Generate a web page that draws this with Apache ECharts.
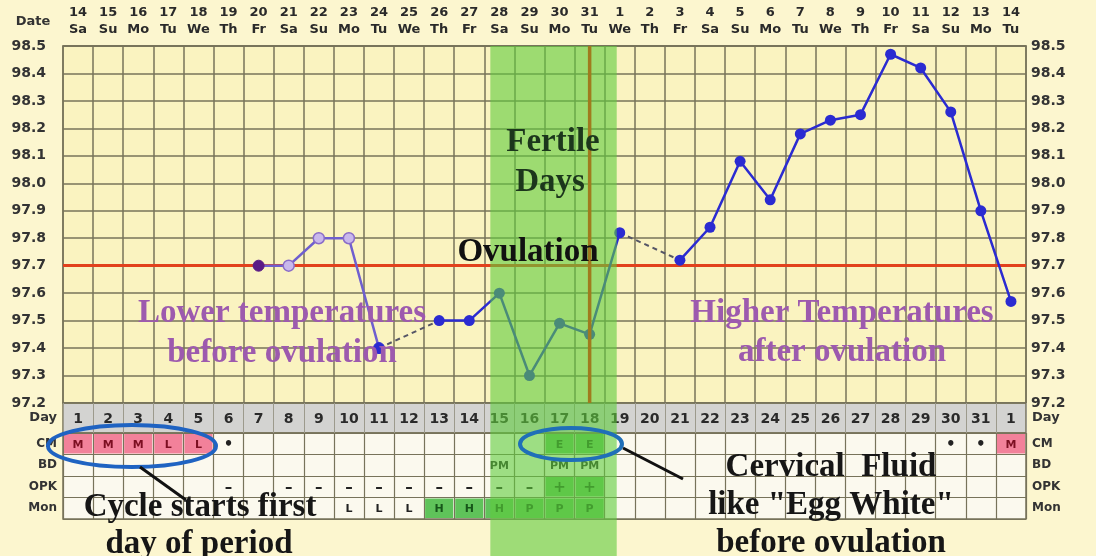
<!DOCTYPE html>
<html>
<head>
<meta charset="utf-8">
<script src="https://cdn.jsdelivr.net/npm/echarts@6/dist/echarts.min.js"></script>
<style>
html,body{margin:0;padding:0;background:#fcf6cf;}
#chart{width:1096px;height:556px;}
</style>
</head>
<body>
<div id="chart"></div>
<script>
// ---------- DATA ----------
const dates = ['14','15','16','17','18','19','20','21','22','23','24','25','26','27','28','29','30','31','1','2','3','4','5','6','7','8','9','10','11','12','13','14'];
const weekdays = ['Sa','Su','Mo','Tu','We','Th','Fr','Sa','Su','Mo','Tu','We','Th','Fr','Sa','Su','Mo','Tu','We','Th','Fr','Sa','Su','Mo','Tu','We','Th','Fr','Sa','Su','Mo','Tu'];
const cycleDays = ['1','2','3','4','5','6','7','8','9','10','11','12','13','14','15','16','17','18','19','20','21','22','23','24','25','26','27','28','29','30','31','1'];
const temps = [null,null,null,null,null,null,97.7,97.7,97.8,97.8,97.4,null,97.5,97.5,97.6,97.3,97.49,97.45,97.82,null,97.72,97.84,98.08,97.94,98.18,98.23,98.25,98.47,98.42,98.26,97.9,97.57];
const tempTicks = {min: 97.2, max: 98.5, step: 0.1};
const coverline = 97.7;
const ovulationIndex = 17;          // cycle day 18
const preOvStart = 6, preOvEnd = 10; // first temps (purple segment)
const dpoLabels = ['1','2','3','4','5','6','7','8','9','10','11','12','13'];
const dpoLevel = 97.745;
const dpoTitle = 'DPO';
const fertileBand = [14.2, 18.4];   // in column units
const rowNames = ['CM','BD','OPK','Mon'];
const cm  = ['M','M','M','L','L','•','','','','','','','','','','','E','E','','','','','','','','','','','','•','•','M'];
const bd  = ['','','','','','','','','','','','','','','PM','','PM','PM','','','','','','','','','','','','','',''];
const opk = ['','','','','','–','','–','–','–','–','–','–','–','–','–','+','+','','','','','','','','','','','','','',''];
const mon = ['','','','','','','','','','L','L','L','H','H','H','P','P','P','','','','','','','','','','','','','',''];

// ---------- STYLE ----------
const gridCol = '#77735a';
const plotBg = '#faf3c0';
const blue = '#2b2bd1';
const purple = '#6f5fcf';
const pink = '#f2819a';
const cellGreen = '#5fc35a';
const fontMono = 'DejaVu Sans';
const serif = 'Liberation Serif';

const tableRows = [cm, bd, opk, mon];
const cellItems = [];
tableRows.forEach((row, r) => {
  row.forEach((t, i) => {
    if (!t) return;
    let fill = null, color = '#222';
    if (r === 0 && (t === 'M' || t === 'L')) { fill = pink; color = '#7c0f22'; }
    else if ((r === 0 && t === 'E') || (r === 2 && t === '+') || (r === 3 && (t === 'H' || t === 'P'))) { fill = cellGreen; color = '#17561a'; }
    cellItems.push({x: i, y: r, text: t, fill, color});
  });
});

function cellRender(params, api) {
  const it = cellItems[params.dataIndex];
  const c = api.coord([it.x, it.y]);
  const s = api.size([1, 1]);
  const ch = [];
  if (it.fill) ch.push({type:'rect', shape:{x:c[0]-s[0]/2+1, y:c[1]-s[1]/2+1, width:s[0]-2, height:s[1]-2}, style:{fill: it.fill}});
  const big = (it.text === '•' || it.text === '–' || it.text === '+');
  ch.push({type:'text', style:{text: it.text, x:c[0], y:c[1]+1, align:'center', verticalAlign:'middle', fill: it.color, font: 'bold ' + (big ? 15 : 11) + 'px ' + fontMono}});
  return {type:'group', children: ch};
}
function dayRender(params, api) {
  const i = params.dataIndex;
  const c = api.coord([i, 0]);
  return {type:'text', style:{text: cycleDays[i], x:c[0], y:c[1]+1, align:'center', verticalAlign:'middle', fill:'#2a2a2a', font:'bold 14px ' + fontMono}};
}

const purpleData = temps.map((v, i) => {
  if (i < preOvStart || i > preOvEnd || v == null) return null;
  let style;
  if (i === preOvStart) style = {color:'#5a1a86', borderColor:'#5a1a86'};
  else if (i === preOvEnd) style = {color: blue, borderColor: blue};
  else style = {color:'#c9b8ec', borderColor:'#8a6cc8', borderWidth:1.5};
  return {value: v, itemStyle: style};
});
const blueData = temps.map((v, i) => i > preOvEnd ? v : null);
// dashed connectors across missing days
const gapSeries = [];
let lastIdx = null;
temps.forEach((v, i) => {
  if (v == null) return;
  if (lastIdx != null && i - lastIdx > 1) {
    const d = temps.map(() => null);
    d[lastIdx] = temps[lastIdx]; d[i] = v;
    gapSeries.push({type:'line', xAxisIndex:0, yAxisIndex:0, data:d, connectNulls:true, symbol:'none', z:1,
      lineStyle:{color:'#555566', width:2, type:[5,4]}});
  }
  lastIdx = i;
});
const dpoData = dpoLabels.map((t, k) => [ovulationIndex + 1 + k, dpoLevel]);

const fmt = v => (+v).toFixed(1);
const yLabel = {fontFamily: fontMono, fontWeight:'bold', fontSize:14, color:'#333', formatter: fmt};

const chart = echarts.init(document.getElementById('chart'), null, {renderer:'canvas'});
const option = {
  animation: false,
  backgroundColor: '#fcf6cf',
  grid: [
    {left:63, right:70, top:46, height:357, show:true, backgroundColor: plotBg, borderColor: gridCol, borderWidth:1.5, containLabel:false},
    {left:63, right:70, top:403, height:30, show:true, backgroundColor:'#d3d3d1', borderColor: gridCol, borderWidth:1.5},
    {left:63, right:70, top:433, height:86, show:true, backgroundColor:'#fbf9ee', borderColor: gridCol, borderWidth:1.5}
  ],
  xAxis: [
    {type:'category', gridIndex:0, position:'top', data: dates, boundaryGap:true,
      axisTick:{show:false}, axisLine:{show:true, lineStyle:{color:gridCol, width:1.5}},
      axisLabel:{interval:0, margin:8, fontFamily:fontMono, fontWeight:'bold', fontSize:13, color:'#2a2a2a', lineHeight:17,
        formatter:(v, i) => dates[i] + '\n' + weekdays[i]},
      splitLine:{show:true, interval:0, lineStyle:{color:gridCol, width:1.5}}},
    {type:'category', gridIndex:1, data: cycleDays, boundaryGap:true, axisLabel:{show:false}, axisTick:{show:false},
      axisLine:{show:false}, splitLine:{show:true, interval:0, lineStyle:{color:'#9c9a8c', width:1}}},
    {type:'category', gridIndex:2, data: cycleDays, boundaryGap:true, axisLabel:{show:false}, axisTick:{show:false},
      axisLine:{show:false}, splitLine:{show:true, interval:0, lineStyle:{color:gridCol, width:1.2}}}
  ],
  yAxis: [
    {type:'value', gridIndex:0, min:tempTicks.min, max:tempTicks.max, interval:tempTicks.step, position:'left',
      axisLine:{show:false}, axisTick:{show:false}, axisLabel:Object.assign({margin:17, showMinLabel:true, showMaxLabel:true}, yLabel),
      splitLine:{show:true, lineStyle:{color:gridCol, width:1.5}}},
    {type:'value', gridIndex:0, min:tempTicks.min, max:tempTicks.max, interval:tempTicks.step, position:'right',
      axisLine:{show:false}, axisTick:{show:false}, axisLabel:Object.assign({margin:5, showMinLabel:true, showMaxLabel:true}, yLabel),
      splitLine:{show:false}},
    {type:'category', gridIndex:1, data:['Day'], position:'left', axisLine:{show:false}, axisTick:{show:false},
      axisLabel:{margin:6, fontFamily:fontMono, fontWeight:'bold', fontSize:13, color:'#333'}},
    {type:'category', gridIndex:1, data:['Day'], position:'right', axisLine:{show:false}, axisTick:{show:false},
      axisLabel:{margin:6, fontFamily:fontMono, fontWeight:'bold', fontSize:13, color:'#333'}},
    {type:'category', gridIndex:2, data:rowNames, inverse:true, position:'left', axisLine:{show:false}, axisTick:{show:false},
      axisLabel:{margin:6, fontFamily:fontMono, fontWeight:'bold', fontSize:12, color:'#333'},
      splitLine:{show:true, interval:0, lineStyle:{color:gridCol, width:1.2}}},
    {type:'category', gridIndex:2, data:rowNames, inverse:true, position:'right', axisLine:{show:false}, axisTick:{show:false},
      axisLabel:{margin:6, fontFamily:fontMono, fontWeight:'bold', fontSize:12, color:'#333'}}
  ],
  series: [
    {type:'line', xAxisIndex:0, yAxisIndex:0, data: blueData, connectNulls:false, symbol:'circle', symbolSize:11, z:3,
      itemStyle:{color: blue}, lineStyle:{color: blue, width:2.5},
      markLine:{silent:true, symbol:'none', label:{show:false}, z:2,
        lineStyle:{color:'#e2411c', width:3, type:'solid'}, data:[{yAxis: coverline}]}},
    {type:'line', xAxisIndex:0, yAxisIndex:0, data: purpleData, connectNulls:false, symbol:'circle', symbolSize:11, z:3,
      lineStyle:{color: purple, width:2.5}},
    ...gapSeries,
    {type:'scatter', xAxisIndex:0, yAxisIndex:0, data: dpoData, symbolSize:1, itemStyle:{opacity:0}, z:4,
      label:{show:true, position:'inside', formatter: p => dpoLabels[p.dataIndex], fontFamily:fontMono, fontWeight:'bold', fontSize:13, color:'#2a2a2a'}},
    {type:'scatter', xAxisIndex:0, yAxisIndex:0, data: [[25, 97.655]], symbolSize:1, itemStyle:{opacity:0}, z:4,
      label:{show:true, position:'inside', formatter: dpoTitle, fontFamily:fontMono, fontWeight:'bold', fontSize:11, color:'#2a2a2a'}},
    {type:'custom', xAxisIndex:1, yAxisIndex:2, data: cycleDays.map((d, i) => [i, 0]), renderItem: dayRender, z:3},
    {type:'custom', xAxisIndex:2, yAxisIndex:4, data: cellItems.map(c => [c.x, c.y]), renderItem: cellRender, z:3}
  ]
};
chart.setOption(option);

// ---------- overlays positioned through the axes ----------
const px = i => chart.convertToPixel({xAxisIndex:0}, i);
const py = v => chart.convertToPixel({yAxisIndex:0}, v);
const colW = px(1) - px(0);
const left0 = px(0) - colW / 2;
const yTop = py(tempTicks.max), yBot = py(tempTicks.min);
const H = chart.getHeight();
const bx0 = left0 + fertileBand[0] * colW, bx1 = left0 + fertileBand[1] * colW;
const ovX = px(ovulationIndex);

function txt(text, x, y, color, size) {
  return {type:'text', z:20, style:{text, x, y, align:'center', verticalAlign:'middle', fill: color, font:'bold ' + size + 'px "' + serif + '"'}};
}
const dark = '#161616', purpleTxt = '#9d5aae', greenDark = '#1c361c';
chart.setOption({graphic: [
  {type:'rect', z:10, shape:{x:bx0, y:yTop, width:bx1 - bx0, height:H - yTop}, style:{fill:'#5fcc3c', opacity:0.6}},
  {type:'line', z:11, shape:{x1:ovX, y1:yTop, x2:ovX, y2:yBot}, style:{stroke:'#a07a1e', lineWidth:3.5}},
  {type:'text', z:20, style:{text:'Date', x:33, y:22, align:'center', verticalAlign:'middle', fill:'#333', font:'bold 13px "' + fontMono + '"'}},
  txt('Fertile', 553, 142, greenDark, 33),
  txt('Days', 550, 182, greenDark, 33),
  txt('Ovulation', 528, 252, '#111', 33),
  txt('Lower temperatures', 282, 313, purpleTxt, 33),
  txt('before ovulation', 282, 353, purpleTxt, 33),
  txt('Higher Temperatures', 842, 313, purpleTxt, 33),
  txt('after ovulation', 842, 352, purpleTxt, 33),
  txt('Cycle starts first', 200, 507, dark, 33),
  txt('day of period', 199, 544, dark, 33),
  txt('Cervical  Fluid', 831, 467, dark, 33),
  txt('like "Egg White"', 831, 505, dark, 33),
  txt('before ovulation', 831, 543, dark, 33),
  {type:'ellipse', z:15, shape:{cx:132, cy:446, rx:84, ry:21}, style:{fill:null, stroke:'#1f63c2', lineWidth:4}},
  {type:'ellipse', z:15, shape:{cx:571, cy:444, rx:51, ry:16}, style:{fill:null, stroke:'#1f6fb8', lineWidth:4}},
  {type:'line', z:15, shape:{x1:140, y1:467, x2:186, y2:500}, style:{stroke:'#111', lineWidth:3}},
  {type:'line', z:15, shape:{x1:623, y1:448, x2:683, y2:479}, style:{stroke:'#111', lineWidth:3}}
]});
</script>
</body>
</html>
